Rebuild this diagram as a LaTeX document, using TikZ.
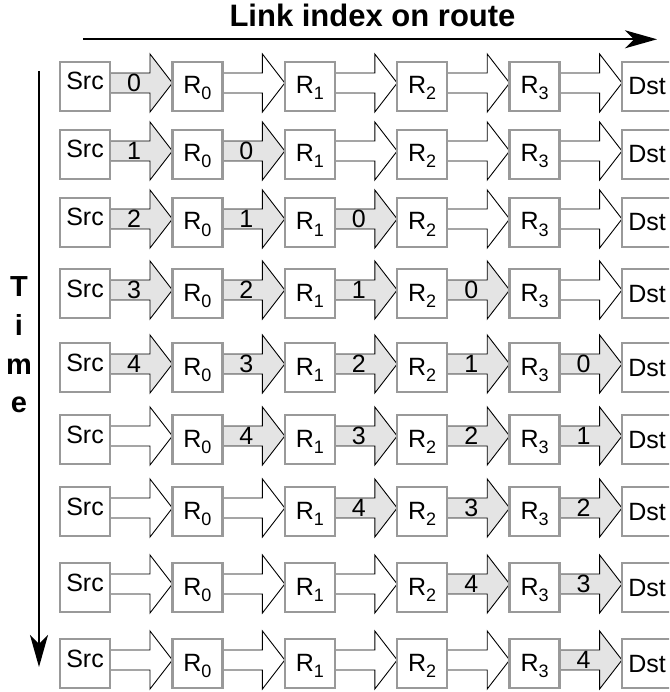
\documentclass[tikz,border=0pt]{standalone}
\usepackage{fontspec}
\setmainfont{Liberation Sans}
\usetikzlibrary{arrows.meta,calc,backgrounds}
\definecolor{boxgray}{RGB}{153,153,153}
\definecolor{busy}{RGB}{228,228,228}
% subscript of a router name
\newcommand{\rsub}[1]{\raisebox{-6pt}{\fontsize{18}{18}\selectfont #1}}

\begin{document}
\begin{tikzpicture}[x=1pt,y=-1pt,
  router/.style={draw=boxgray,line width=2.4pt,fill=white,minimum width=50pt,
    minimum height=49pt,inner sep=0pt,outer sep=0pt},
  nodetext/.style={font=\fontsize{25}{30}\selectfont,inner sep=0pt,anchor=base},
  link/.style={draw=black,line width=0.9pt,line join=miter},
  axis/.style={line width=2pt,-{Stealth[length=32pt,width=18pt,inset=9pt]}},
  timetext/.style={font=\bfseries\fontsize{29}{30}\selectfont,inner sep=0pt,anchor=base}]
\useasboundingbox (0,0) rectangle (669,692);
\clip (0,0) rectangle (669,692);

% axes
\node[font=\bfseries\fontsize{31}{34}\selectfont,inner sep=0pt,anchor=base] (title) at (372.5,27) {Link index on route};
\coordinate (route-start) at (83,39.3);
\coordinate (route-end) at (657,39.3);
\draw[axis] (route-start) -- (route-end);

\coordinate (time-start) at (39,71);
\coordinate (time-end) at (39,667);
\draw[axis] (time-start) -- (time-end);
\node[timetext] (time-t) at (19,296) {T};
\node[timetext] (time-i) at (19,335) {i};
\node[timetext] (time-m) at (19,374) {m};
\node[timetext] (time-e) at (19,412) {e};

% one row of nodes per time step
\foreach \r/\top in {0/62,1/130,2/198,3/269,4/343,5/415,6/487,7/563,8/639}{
  \foreach \j/\txt/\dy in {0/Src/3.5,1/R\rsub{0}/7.5,2/R\rsub{1}/7.5,3/R\rsub{2}/7.5,4/R\rsub{3}/7.5,5/Dst/8.5}{
    \node[router] (n\r-\j) at ({85+112.4*\j},{\top+24.5}) {};
    \node[nodetext] (t\r-\j) at ([yshift=-\dy pt]n\r-\j.center) {\txt};
  }
}

% links between neighbouring nodes; busy links carry a packet number
\foreach \r in {0,...,8}{
  \foreach \j in {0,...,4}{
    \pgfmathtruncatemacro\k{\j+1}
    \pgfmathtruncatemacro\hop{\r-\j}
    \ifnum\hop<0 \def\fillc{white}\else\ifnum\hop>4 \def\fillc{white}\else\def\fillc{busy}\fi\fi
    \begin{pgfonlayer}{background}
      \draw[link,fill=\fillc] let \p1=(n\r-\j.east), \p2=(n\r-\k.west) in
        (\x1,\y1+13.5pt) -- (\x2-22.4pt,\y1+13.5pt) -- (\x2-22.4pt,\y1+32.5pt)
        -- (\x2,\y1+3.5pt) -- (\x2-22.4pt,\y1-25.5pt) -- (\x2-22.4pt,\y1-6.5pt)
        -- (\x1,\y1-6.5pt) -- cycle;
    \end{pgfonlayer}
    \ifnum\hop<0 \else\ifnum\hop>4 \else
      \node[nodetext] (h\r-\j) at ([xshift=24pt,yshift=-5pt]n\r-\j.east) {\hop};
    \fi\fi
  }
}
\end{tikzpicture}
\end{document}
